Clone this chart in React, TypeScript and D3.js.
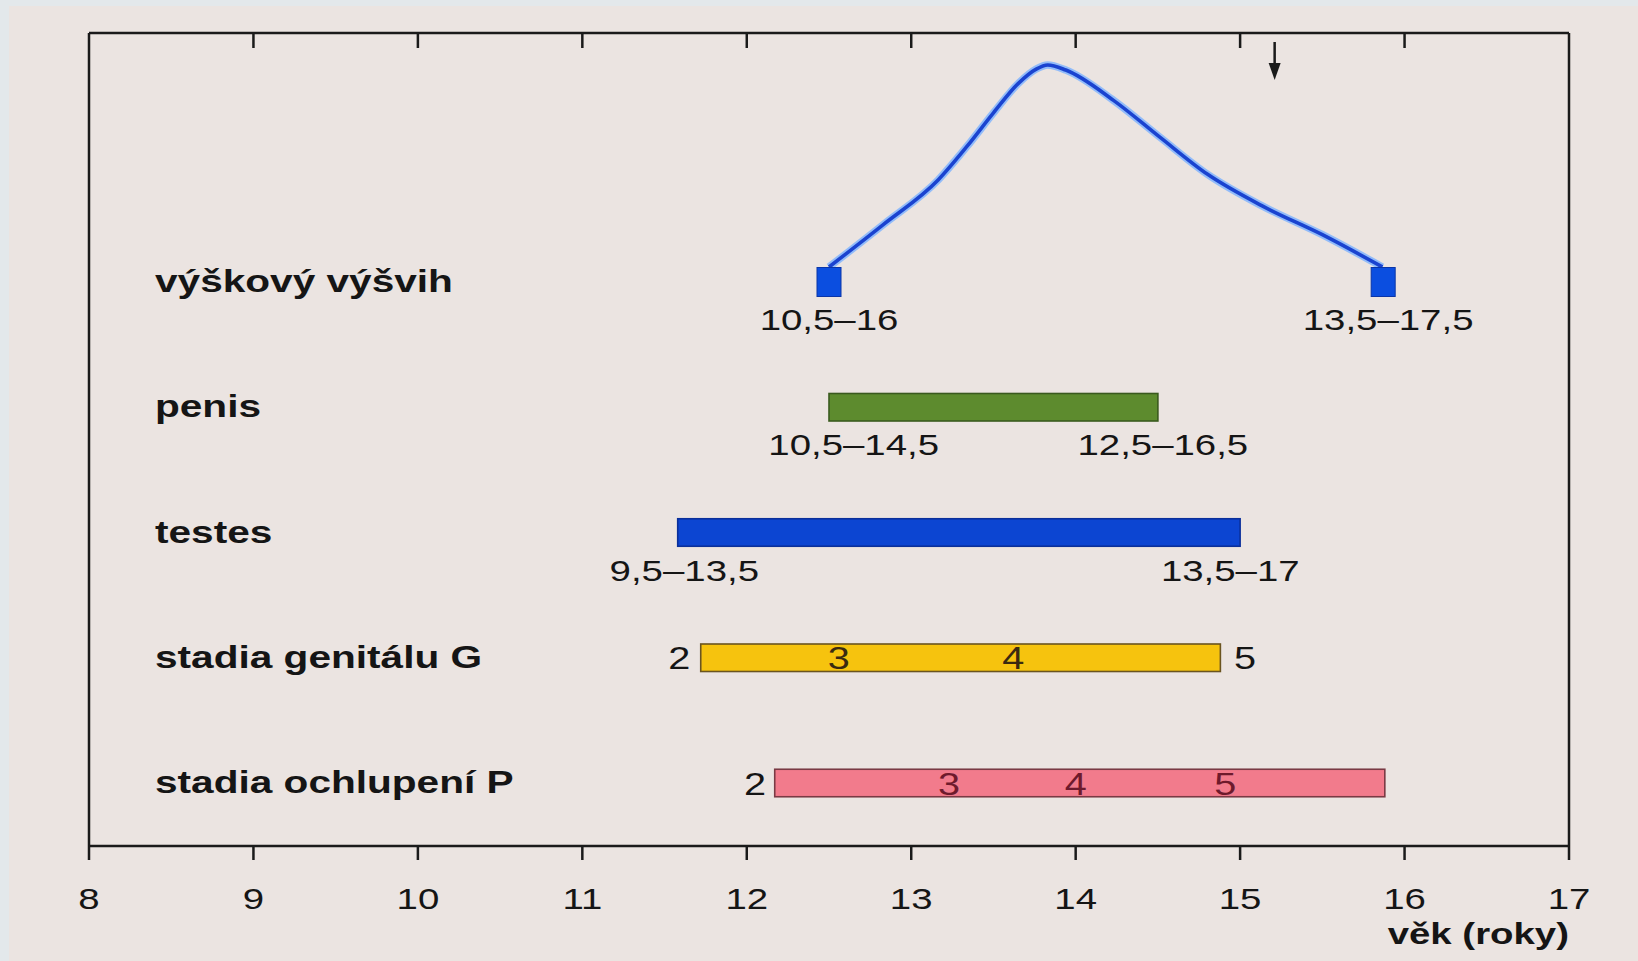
import React from "react";
import * as d3 from "d3";

// ---- data ----
const yearTicks = [8, 9, 10, 11, 12, 13, 14, 15, 16, 17];
const topTicks = [9, 10, 11, 12, 13, 14, 15, 16];
const rowLabels = ["výškový výšvih", "penis", "testes", "stadia genitálu G", "stadia ochlupení P"];

// growth spurt velocity curve (age, relative velocity)
const curveAges = [12.5, 12.83, 13.165, 13.34, 13.5, 13.65, 13.76, 13.83, 13.94, 14.23, 14.51, 14.8, 15.14, 15.5, 15.865];
const curveVel = [0, 2.1, 4.32, 5.98, 7.63, 9.08, 9.8, 10, 9.75, 8.25, 6.44, 4.6, 3.0, 1.6, 0];
const spurtMarkers = [12.5, 15.87];

// bars: [row index, start age, end age]
const barRows = [1, 2, 3, 4];
const barStarts = [12.5, 11.58, 11.72, 12.17];
const barEnds = [14.5, 15.0, 14.88, 15.88];

// range labels under rows
const rangeRows = [0, 0, 1, 1, 2, 2];
const rangeAges = [12.5, 15.9, 12.65, 14.53, 11.62, 14.94];
const rangeTexts = ["10,5–16", "13,5–17,5", "10,5–14,5", "12,5–16,5", "9,5–13,5", "13,5–17"];

// stage numbers
const stageGAges = [11.59, 12.56, 13.62, 15.03];
const stageGTexts = ["2", "3", "4", "5"];
const stagePAges = [12.05, 13.23, 14.0, 14.91];
const stagePTexts = ["2", "3", "4", "5"];

const arrowAge = 15.21;
const axisTitle = "věk (roky)";

// ---- styles ----
const FONT = "'Liberation Sans', Arial, Helvetica, sans-serif";
const SX = 1.28; // horizontal stretch of the original typography
const SX_BOLD = 1.31;
const barFills = ["#5d8b2e", "#0c45d2", "#f6c30e", "#f27b8c"];
const barStrokes = ["#3a5a1e", "#0a2f9a", "#6a5420", "#7a3a44"];
const stageInnerColorG = "#3a2a10";
const stageInnerColorP = "#6e1a2c";

function SText(props: {
  x: number; y: number; text: string; size: number; weight?: string;
  anchor?: string; fill?: string; sx?: number;
}) {
  const { x, y, text, size, weight = "normal", anchor = "start", fill = "#151515", sx = SX } = props;
  return (
    <text
      transform={`translate(${x},${y}) scale(${sx},1)`}
      fontFamily={FONT}
      fontSize={size}
      fontWeight={weight}
      textAnchor={anchor}
      fill={fill}
    >
      {text}
    </text>
  );
}

export default function App() {
  const W = 1638, H = 961;
  const x = d3.scaleLinear().domain([8, 17]).range([89, 1569]);
  const yRow = d3.scalePoint<number>().domain(d3.range(rowLabels.length)).range([282, 783]);
  const top = 33, bottom = 846;
  const barH = 27.5;
  const yVel = d3.scaleLinear().domain([0, 10]).range([267, 65]);

  const line = d3
    .line<number>()
    .x((_, i) => x(curveAges[i]))
    .y((d) => yVel(d))
    .curve(d3.curveMonotoneX);
  const curvePath = line(curveVel) || "";

  const sqW = 24, sqH = 29;

  return (
    <svg width={W} height={H} style={{ position: "absolute", left: 0, top: 0 }}>
      <rect x={0} y={0} width={W} height={H} fill="#e3e8eb" />
      <rect x={9} y={6} width={W - 9} height={H - 6} fill="#ebe4e1" />

      {/* frame */}
      <g stroke="#1a1a1a" strokeWidth={2.5} fill="none">
        <line x1={x(8)} x2={x(17)} y1={top} y2={top} />
        <line x1={x(8)} x2={x(17)} y1={bottom} y2={bottom} />
        <line x1={x(8)} x2={x(8)} y1={top} y2={bottom} />
        <line x1={x(17)} x2={x(17)} y1={top} y2={bottom} />
        {yearTicks.map((t) => (
          <line key={"b" + t} x1={x(t)} x2={x(t)} y1={bottom} y2={bottom + 14} />
        ))}
        {topTicks.map((t) => (
          <line key={"t" + t} x1={x(t)} x2={x(t)} y1={top} y2={top + 15} />
        ))}
      </g>

      {/* tick labels */}
      {yearTicks.map((t) => (
        <SText key={"tl" + t} x={x(t)} y={909} text={String(t)} size={30} anchor="middle" />
      ))}
      <SText x={1569} y={944} text={axisTitle} size={30} weight="bold" anchor="end" />

      {/* row labels */}
      {rowLabels.map((l, i) => (
        <SText key={l} x={155} y={yRow(i)! + 10} text={l} size={31} weight="bold" sx={SX_BOLD} />
      ))}

      {/* growth curve */}
      <path d={curvePath} fill="none" stroke="#7cb2ff" strokeWidth={7.5} strokeOpacity={0.8} />
      <path d={curvePath} fill="none" stroke="#1a43d0" strokeWidth={3.6} />
      {spurtMarkers.map((a, i) => (
        <rect key={"sq" + i} x={x(a) - sqW / 2} y={yRow(0)! - sqH / 2} width={sqW} height={sqH}
          fill="#0b4ee0" stroke="#0a35a8" strokeWidth={1} />
      ))}

      {/* arrow */}
      <line x1={x(arrowAge)} x2={x(arrowAge)} y1={42} y2={66} stroke="#1a1a1a" strokeWidth={2.5} />
      <path d={`M${x(arrowAge) - 6},${63} L${x(arrowAge) + 6},${63} L${x(arrowAge)},${80} Z`} fill="#1a1a1a" />

      {/* bars */}
      {barRows.map((r, i) => (
        <rect key={"bar" + i} x={x(barStarts[i])} y={yRow(r)! - barH / 2}
          width={x(barEnds[i]) - x(barStarts[i])} height={barH}
          fill={barFills[i]} stroke={barStrokes[i]} strokeWidth={1.6} />
      ))}

      {/* range labels */}
      {rangeTexts.map((t, i) => (
        <SText key={"rl" + i} x={x(rangeAges[i])} y={yRow(rangeRows[i])! + 48} text={t} size={30} anchor="middle" />
      ))}

      {/* stage numbers */}
      {stageGTexts.map((t, i) => (
        <SText key={"g" + i} x={x(stageGAges[i])} y={yRow(3)! + 11.5} text={t} size={31} anchor="middle"
          fill={i === 0 || i === stageGTexts.length - 1 ? "#151515" : stageInnerColorG} />
      ))}
      {stagePTexts.map((t, i) => (
        <SText key={"p" + i} x={x(stagePAges[i])} y={yRow(4)! + 11.5} text={t} size={31} anchor="middle"
          fill={i === 0 ? "#151515" : stageInnerColorP} />
      ))}
    </svg>
  );
}
